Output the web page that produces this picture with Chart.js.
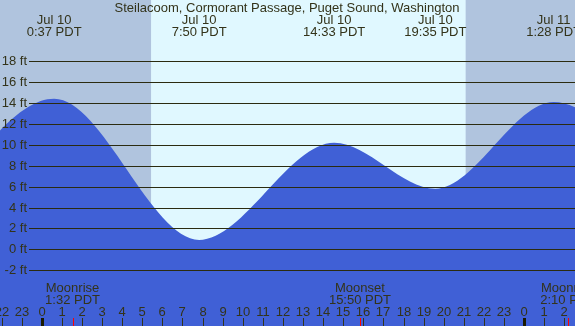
<!DOCTYPE html>
<html>
<head>
<meta charset="utf-8">
<script src="https://cdn.jsdelivr.net/npm/chart.js@4"></script>
<style>
  body { margin: 0; background: #fff; }
  #wrap { width: 575px; height: 326px; position: relative; }
</style>
</head>
<body>
<div id="wrap"><canvas id="tides"></canvas></div>
<script>
// Tide chart, Steilacoom - one day plus a bit each side

const title = 'Steilacoom, Cormorant Passage, Puget Sound, Washington'

// hours from midnight Jul 10, heights in feet (first and last are off screen)
const tideHours = [-6.0, 0.617, 7.833, 14.55, 19.583, 25.467, 32.5]
const tideFeet = [2.9, 14.4, 0.9, 10.2, 5.8, 14.1, 2.0]

// the labelled highs/lows along the top
const eventHours = [0.617, 7.833, 14.55, 19.583, 25.467]
const eventDates = ['Jul 10', 'Jul 10', 'Jul 10', 'Jul 10', 'Jul 11']
const eventTimes = ['0:37 PDT', '7:50 PDT', '14:33 PDT', '19:35 PDT', '1:28 PDT']

const moonNames = ['Moonrise', 'Moonset', 'Moonrise']
const moonHours = [1.533, 15.833, 26.167]
const moonTimes = ['1:32 PDT', '15:50 PDT', '2:10 PDT']

const sunrise = 5.44
const sunset = 21.09

const feetTicks = [-2, 0, 2, 4, 6, 8, 10, 12, 14, 16, 18]
const hourTicks = [-2, -1, 0, 1, 2, 3, 4, 5, 6, 7, 8, 9, 10, 11, 12, 13, 14, 15, 16, 17, 18, 19, 20, 21, 22, 23, 24, 25, 26]

const font = '13px "Liberation Sans", Arial, sans-serif'
const ink = '#33331a'

const decor = {
  id: 'decor',
  beforeDatasetsDraw(chart) {
    const { ctx, chartArea: a, scales: { x } } = chart
    const x1 = x.getPixelForValue(sunrise)
    const x2 = x.getPixelForValue(sunset)
    ctx.save()
    ctx.fillStyle = '#b0c4de'
    ctx.fillRect(a.left, a.top, a.right - a.left, a.bottom - a.top)
    ctx.fillStyle = '#e0f8ff'
    ctx.fillRect(x1, a.top, x2 - x1, a.bottom - a.top)
    ctx.restore()
  },
  afterDatasetsDraw(chart) {
    const { ctx, chartArea: a, scales: { x, y } } = chart
    ctx.save()
    ctx.font = font
    ctx.fillStyle = ink

    // feet lines + labels
    ctx.strokeStyle = '#2b2b10'
    ctx.lineWidth = 1
    ctx.textAlign = 'right'
    ctx.textBaseline = 'middle'
    feetTicks.forEach(f => {
      const py = Math.round(y.getPixelForValue(f)) + 0.5
      ctx.beginPath()
      ctx.moveTo(29, py)
      ctx.lineTo(a.right, py)
      ctx.stroke()
      ctx.fillText(f + ' ft', 27, py)
    })

    // title and tide times
    ctx.textAlign = 'center'
    ctx.fillText(title, 287, 8)
    eventHours.forEach((h, i) => {
      const px = x.getPixelForValue(h)
      ctx.fillText(eventDates[i], px, 20)
      ctx.fillText(eventTimes[i], px, 32)
    })

    // moon rise/set
    moonHours.forEach((h, i) => {
      const px = x.getPixelForValue(h)
      ctx.fillText(moonNames[i], px, 288)
      ctx.fillText(moonTimes[i], px, 300)
    })

    // hour ticks along the bottom
    hourTicks.forEach(h => {
      const px = Math.round(x.getPixelForValue(h))
      const hr = ((h % 24) + 24) % 24
      ctx.fillText(String(hr), px, 312)
      if (hr === 0) {
        ctx.fillStyle = '#1a1a00'
        ctx.fillRect(px - 1, 318, 3, 8)
        ctx.fillStyle = ink
      } else {
        ctx.fillRect(px, 318, 1, 8)
      }
    })
    ctx.fillStyle = '#ff0000'
    moonHours.forEach(h => {
      const px = Math.round(x.getPixelForValue(h))
      ctx.fillRect(px, 318, 1, 8)
    })
    ctx.restore()
  }
}

const tideChart = new Chart(document.getElementById('tides'), {
  type: 'line',
  data: {
    datasets: [{
      data: tideHours.map((h, i) => ({ x: h, y: tideFeet[i] })),
      fill: 'start',
      backgroundColor: '#4060d6',
      borderWidth: 0,
      pointRadius: 0,
      cubicInterpolationMode: 'monotone'
    }]
  },
  options: {
    responsive: true,
    maintainAspectRatio: false,
    animation: false,
    layout: { padding: 0 },
    scales: {
      x: { type: 'linear', min: -2.075, max: 26.53, display: false },
      y: { min: -7.34, max: 23.86, display: false }
    },
    plugins: {
      legend: { display: false },
      tooltip: { enabled: false }
    }
  },
  plugins: [decor]
})
</script>
</body>
</html>
